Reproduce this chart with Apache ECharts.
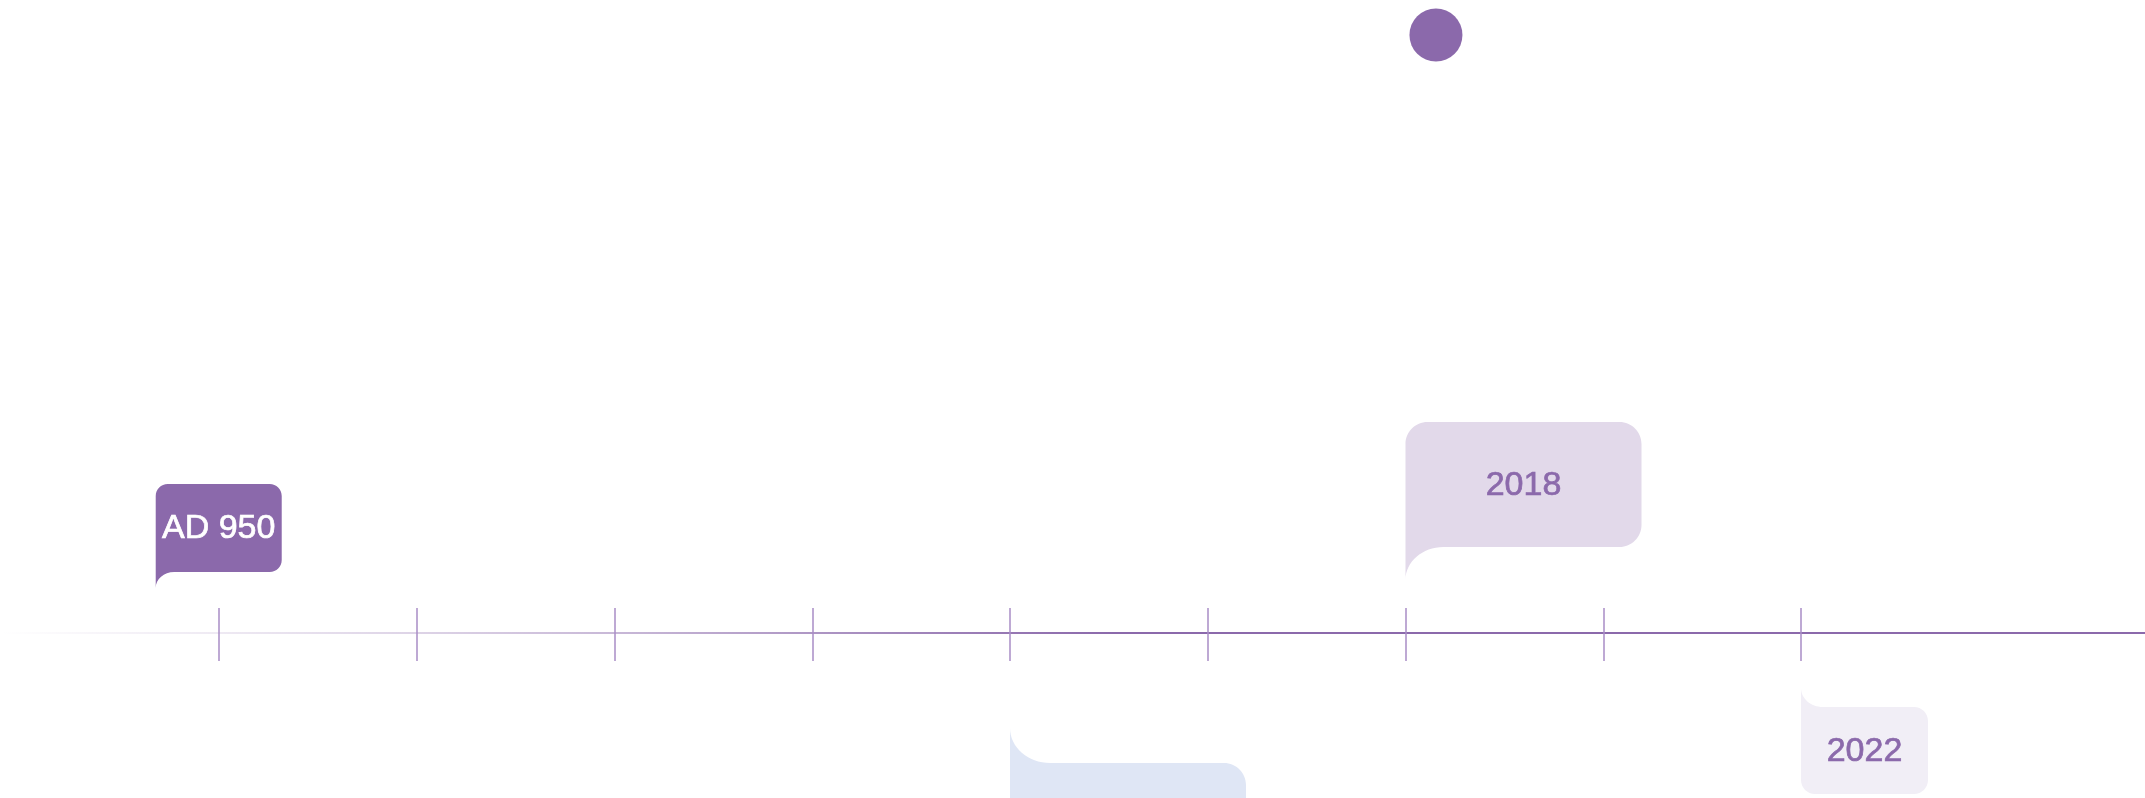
<!DOCTYPE html>
<html>
<head>
<meta charset="utf-8">
<script src="https://cdn.jsdelivr.net/npm/echarts@6/dist/echarts.min.js"></script>
<style>
  html, body { margin: 0; padding: 0; background: #ffffff; }
  #chart { width: 2145px; height: 798px; }
</style>
</head>
<body>
<div id="chart"></div>
<script>
// ---- data ----
const eventLabels = ['AD 950', '', '2018', '2022'];
const eventPositions = [0.68, 5, 7, 9];
const tickValues = [1, 2, 3, 4, 5, 6, 7, 8, 9];
const markerPoint = [7.154, 598];

// ---- layout / style (kept apart from data) ----
const PURPLE = '#8B69AB';
const flagLayout = [
  { side: -1, tipGap: 45, tail: 16, bodyH: 88,  w: 126, r: 12, fill: PURPLE,    text: '#ffffff' },
  { side:  1, tipGap: 95, tail: 35, bodyH: 125, w: 236, r: 22, fill: '#DFE6F5', text: '#5B6FA8' },
  { side: -1, tipGap: 53, tail: 33, bodyH: 125, w: 236, r: 22, fill: '#E2D9EA', text: PURPLE },
  { side:  1, tipGap: 55, tail: 19, bodyH: 87,  w: 127, r: 14, fill: '#F1EEF6', text: PURPLE }
];

const unitPx = (1801 - 219) / 8;
const xMin = 1 - 219 / unitPx;
const xMax = 1 + (2145 - 219) / unitPx;

function flagPath(x0, yTip, L) {
  const s = L.side, k = 0.5523;
  const yN = yTip + s * L.tail;
  const yF = yN + s * L.bodyH;
  const w = L.w, r = L.r, cx = L.tail * 1.15, kr = k * r;
  return [
    'M', x0, yTip,
    'L', x0, yF - s * r,
    'C', x0, yF - s * (r - kr), x0 + r - kr, yF, x0 + r, yF,
    'L', x0 + w - r, yF,
    'C', x0 + w - r + kr, yF, x0 + w, yF - s * (r - kr), x0 + w, yF - s * r,
    'L', x0 + w, yN + s * r,
    'C', x0 + w, yN + s * (r - kr), x0 + w - r + kr, yN, x0 + w - r, yN,
    'L', x0 + cx, yN,
    'C', x0 + cx - k * cx, yN, x0, yTip + s * k * L.tail, x0, yTip,
    'Z'
  ].join(' ');
}

const chart = echarts.init(document.getElementById('chart'), null, { renderer: 'canvas' });

const axisCommon = {
  type: 'value',
  min: xMin,
  max: xMax,
  position: 'bottom',
  axisLabel: { show: false },
  splitLine: { show: false }
};

chart.setOption({
  animation: false,
  backgroundColor: '#ffffff',
  grid: { left: 0, right: 0, top: 0, bottom: 165 },
  xAxis: [
    Object.assign({}, axisCommon, {
      axisLine: {
        show: true, onZero: false,
        lineStyle: {
          width: 2,
          color: {
            type: 'linear', x: 0, y: 0, x2: 2145, y2: 0, global: true,
            colorStops: [
              { offset: 0, color: 'rgba(139,105,171,0)' },
              { offset: 0.1, color: 'rgba(139,105,171,0.14)' },
              { offset: 0.2, color: 'rgba(139,105,171,0.3)' },
              { offset: 0.3, color: 'rgba(139,105,171,0.5)' },
              { offset: 0.42, color: 'rgba(139,105,171,0.8)' },
              { offset: 0.52, color: 'rgba(139,105,171,1)' },
              { offset: 1, color: 'rgba(139,105,171,1)' }
            ]
          }
        }
      },
      axisTick: { show: true, customValues: tickValues, inside: false, length: 28,
                  lineStyle: { color: '#A98DC6', width: 1.5 } }
    }),
    Object.assign({}, axisCommon, {
      axisLine: { show: false, onZero: false },
      axisTick: { show: true, customValues: tickValues, inside: true, length: 25,
                  lineStyle: { color: '#A98DC6', width: 1.5 } }
    })
  ],
  yAxis: { type: 'value', min: 0, max: 633, show: false },
  series: [
    {
      type: 'custom',
      clip: false,
      data: eventPositions.map((x, i) => [x, i]),
      renderItem: function (params, api) {
        const i = params.dataIndex;
        const L = flagLayout[i];
        const p = api.coord([api.value(0), 0]);
        const x0 = p[0];
        const yTip = p[1] + L.side * L.tipGap;
        const yN = yTip + L.side * L.tail;
        const yF = yN + L.side * L.bodyH;
        return {
          type: 'group',
          children: [
            { type: 'path', shape: { pathData: flagPath(x0, yTip, L) }, style: { fill: L.fill } },
            { type: 'text', x: x0 + L.w / 2, y: (yN + yF) / 2 + 1,
              style: { text: eventLabels[i], fill: L.text, fontSize: 34,
                       fontFamily: 'Liberation Sans, Arial, Helvetica, sans-serif',
                       stroke: L.text, lineWidth: 0.7,
                       align: 'center', verticalAlign: 'middle' } }
          ]
        };
      }
    },
    {
      type: 'scatter',
      symbol: 'circle',
      symbolSize: 53,
      itemStyle: { color: PURPLE, opacity: 1 },
      data: [markerPoint]
    }
  ]
});
</script>
</body>
</html>
